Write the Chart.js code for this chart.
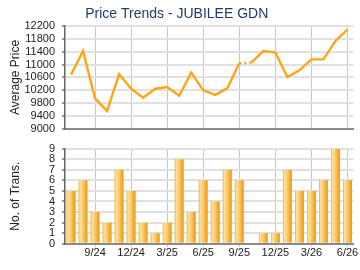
<!DOCTYPE html>
<html>
<head>
<meta charset="utf-8">
<script src="https://cdn.jsdelivr.net/npm/chart.js@4"></script>
<style>
  html, body { margin: 0; padding: 0; background: #fff; }
  #wrap { position: relative; width: 360px; height: 270px; }
  canvas { position: absolute; left: 0; }
</style>
</head>
<body>
<div id="wrap">
  <canvas id="priceChart" width="360" height="135" style="top:0"></canvas>
  <canvas id="transChart" width="360" height="135" style="top:135px"></canvas>
</div>
<script>
// months from 7/24 to 6/26
const months = ['7/24', '8/24', '9/24', '10/24', '11/24', '12/24', '1/25', '2/25', '3/25', '4/25', '5/25', '6/25',
    '7/25', '8/25', '9/25', '10/25', '11/25', '12/25', '1/26', '2/26', '3/26', '4/26', '5/26', '6/26'];
const shownLabels = ['9/24', '12/24', '3/25', '6/25', '9/25', '12/25', '3/26', '6/26'];

const avgPrice = [10680, 11420, 9950, 9560, 10700, 10250, 9970, 10250, 10300, 10030, 10750, 10200,
    10060, 10260, 11040, 11060, 11420, 11370, 10610, 10820, 11160, 11160, 11730, 12080];
const transCount = [5, 6, 3, 2, 7, 5, 2, 1, 2, 8, 3, 6, 4, 7, 6, 0, 1, 1, 7, 5, 5, 6, 9, 6];
// month with no transactions, price carried over (drawn dotted)
const carriedIndex = 15;

const priceTicks = { min: 9000, max: 12200, step: 400 };
const transTicks = { min: 0, max: 9, step: 1 };

const fontFamily = '"Liberation Sans", Arial, sans-serif';
const tickColor = '#222';

function isShown(i) {
    return shownLabels.includes(months[i]);
}

function xGridColor(ctx) {
    return isShown(ctx.index) ? '#c8c8c8' : 'rgba(0,0,0,0)';
}

function fixWidth(scale) {
    scale.width = 65;
}

// horizontal gradient for each bar
function barGradient(ctx) {
    const chart = ctx.chart;
    const xs = chart.scales.x;
    if (!xs || ctx.dataIndex === undefined) return '#f8c050';
    const x = xs.getPixelForValue(ctx.dataIndex);
    if (!isFinite(x)) return '#f8c050';
    const w = 9;
    const g = chart.ctx.createLinearGradient(x - w / 2, 0, x + w / 2, 0);
    g.addColorStop(0, '#eda524');
    g.addColorStop(0.15, '#fde1a0');
    g.addColorStop(0.45, '#fbcf72');
    g.addColorStop(0.8, '#f5ab2c');
    g.addColorStop(1, '#e4930c');
    return g;
}

new Chart(document.getElementById('priceChart'), {
    type: 'line',
    data: {
        labels: months,
        datasets: [{
            data: avgPrice,
            borderColor: '#ffa514',
            borderWidth: 2.4,
            pointRadius: 0,
            tension: 0,
            fill: false,
            segment: {
                borderDash: ctx => ctx.p1DataIndex === carriedIndex ? [2, 3] : undefined
            }
        }]
    },
    options: {
        responsive: false,
        animation: false,
        layout: { padding: { left: 0, right: 6.5, top: 0, bottom: 6 } },
        plugins: {
            legend: { display: false },
            tooltip: { enabled: false },
            title: {
                display: true,
                text: 'Price Trends - JUBILEE GDN',
                color: '#1f3d6b',
                font: { family: fontFamily, size: 14, weight: 'normal' },
                padding: { top: 6, bottom: 3 }
            }
        },
        scales: {
            x: {
                offset: true,
                afterFit: scale => { scale.height = 0; },
                grid: { offset: false, color: xGridColor, drawTicks: false, lineWidth: 1 },
                border: { color: '#8a8a8a', width: 2 },
                ticks: { display: false, autoSkip: false }
            },
            y: {
                min: priceTicks.min,
                max: priceTicks.max,
                afterFit: scale => {
                    fixWidth(scale);
                    scale.paddingBottom = 0;
                },
                grid: { color: '#e0e0e0', lineWidth: 2, tickLength: 3, tickColor: '#999' },
                border: { color: '#666', width: 1.5 },
                ticks: {
                    stepSize: priceTicks.step,
                    autoSkip: false,
                    color: tickColor,
                    padding: 7,
                    font: { family: fontFamily, size: 11 },
                    callback: v => String(v)
                },
                title: {
                    display: true,
                    text: 'Average Price',
                    color: tickColor,
                    font: { family: fontFamily, size: 12 },
                    padding: { top: 8, bottom: 0 }
                }
            }
        }
    }
});

new Chart(document.getElementById('transChart'), {
    type: 'bar',
    data: {
        labels: months,
        datasets: [{
            data: transCount,
            backgroundColor: barGradient,
            borderWidth: 0,
            categoryPercentage: 1,
            barPercentage: 0.74
        }]
    },
    options: {
        responsive: false,
        animation: false,
        layout: { padding: { left: 0, right: 6.5, top: 12, bottom: 10 } },
        plugins: {
            legend: { display: false },
            tooltip: { enabled: false }
        },
        scales: {
            x: {
                offset: true,
                grid: { offset: false, color: xGridColor, tickColor: xGridColor, tickLength: 3, lineWidth: 1 },
                border: { color: '#8a8a8a', width: 2 },
                ticks: {
                    autoSkip: false,
                    maxRotation: 0,
                    padding: 0,
                    color: tickColor,
                    font: { family: fontFamily, size: 11 },
                    callback: (v, i) => isShown(i) ? months[i] : ''
                }
            },
            y: {
                min: transTicks.min,
                max: transTicks.max,
                afterFit: fixWidth,
                grid: { color: '#e0e0e0', lineWidth: 2, tickLength: 3, tickColor: '#999' },
                border: { color: '#666', width: 1.5 },
                ticks: {
                    stepSize: transTicks.step,
                    autoSkip: false,
                    color: tickColor,
                    padding: 7,
                    font: { family: fontFamily, size: 11 }
                },
                title: {
                    display: true,
                    text: 'No. of Trans.',
                    color: tickColor,
                    font: { family: fontFamily, size: 12 },
                    padding: { top: 8, bottom: 0 }
                }
            }
        }
    }
});
</script>
</body>
</html>
